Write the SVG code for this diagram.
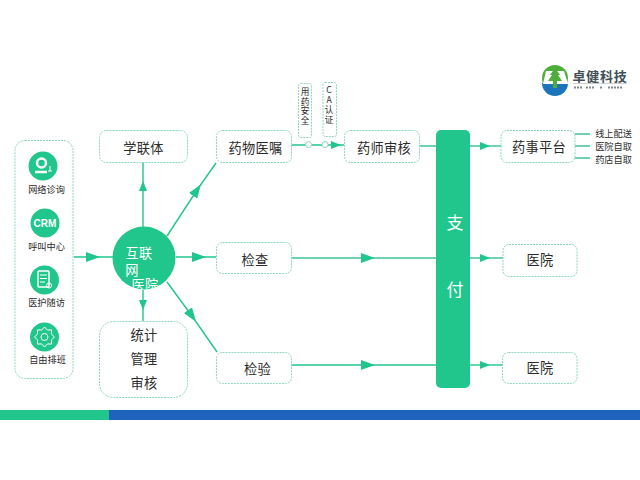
<svg xmlns="http://www.w3.org/2000/svg" width="640" height="480" viewBox="0 0 640 480">
<style>
text{font-family:"Noto Sans CJK SC","Liberation Sans",sans-serif;fill:#2b2b2b;text-anchor:middle}
.box{fill:#fff;stroke:#8fd6c0;stroke-width:1;stroke-dasharray:2 1}
.ln{fill:none;stroke:#20c68c;stroke-width:1.4}
.pale{stroke:#6fd2b0;stroke-width:2}
.t{font-size:13.2px;letter-spacing:.3px}
.s{font-size:9.2px}
.v{font-size:8.6px;writing-mode:vertical-rl;text-orientation:upright;letter-spacing:1px;text-anchor:start}
.w{fill:#fff}
.ic{fill:none;stroke:#fff}
</style>
<defs>
<marker id="a" viewBox="0 0 14 10" refX="7" refY="5" markerWidth="14" markerHeight="10" markerUnits="userSpaceOnUse" orient="auto"><path d="M0 0L14 5L0 10Z" fill="#20c68c"/></marker>
<marker id="b" viewBox="0 0 10 8" refX="5" refY="4" markerWidth="10" markerHeight="8" markerUnits="userSpaceOnUse" orient="auto"><path d="M0 0L10 4L0 8Z" fill="#20c68c"/></marker>
</defs>
<rect width="640" height="480" fill="#fff"/>
<g id="connectors">
<path class="ln" d="M74 257L93 257L113 257" marker-mid="url(#a)"/>
<path class="ln" d="M143 228L143 186L143 162" marker-mid="url(#b)"/>
<path class="ln" d="M143 290L143 305L143 321" marker-mid="url(#b)"/>
<path class="ln" d="M167 236L197 190L216 163" marker-mid="url(#a)"/>
<path class="ln" d="M176 257L199 257L216 257" marker-mid="url(#a)"/>
<path class="ln" d="M167 282L192 316L217 352" marker-mid="url(#a)"/>
<path class="ln pale" d="M291 258L368 258L436 258" marker-mid="url(#a)"/>
<path class="ln" d="M290 365L368 365L436 365" marker-mid="url(#a)"/>
<path class="ln pale" d="M470 258L485 258L503 258" marker-mid="url(#b)"/>
<path class="ln" d="M470 365L485 365L502 365" marker-mid="url(#b)"/>
<path class="ln" d="M291 145L336 145L344 145" marker-mid="url(#b)"/>
<path class="ln pale" d="M419 146L436 146"/>
<path class="ln pale" d="M470 146L485 146L501 146" marker-mid="url(#b)"/>
<path class="ln pale" d="M575 134L590 134M575 146L590 146M575 158L590 158"/>
</g>
<g id="panel">
<rect class="box" x="15" y="140.500" width="58" height="238" rx="10"/>
<g id="n-wangluo"><circle cx="43" cy="166" r="14.500" fill="#20c68c"/><circle cx="41.500" cy="163" r="4.500" class="ic" stroke-width="2.500"/><path d="M35 172H47" class="ic" stroke-width="2.500"/><path d="M48 171h4M50 166v5" class="ic"/><text class="s" x="46.500" y="192.500">网络诊询</text></g>
<g id="n-crm"><circle cx="45" cy="223" r="14.500" fill="#20c68c"/><text x="45" y="226.500" style="font:bold 10px 'Liberation Sans',sans-serif;fill:#fff">CRM</text><text class="s" x="46.500" y="249.500">呼叫中心</text></g>
<g id="n-suifang"><circle cx="44.500" cy="280" r="14.500" fill="#20c68c"/><rect x="38" y="271" width="11" height="16" rx="1" class="ic" stroke-width="1.500"/><path d="M40 275H47M40 278.500H47M40 282H45" class="ic"/><circle cx="49" cy="285.500" r="2.500" class="ic"/><text class="s" x="46.500" y="305.500">医护随访</text></g>
<g id="n-paiban"><circle cx="44.500" cy="337" r="14.500" fill="#20c68c"/><circle cx="44.500" cy="337" r="3.500" class="ic"/><path class="ic" stroke-linejoin="round" transform="translate(.5 0)" d="M54 337L50.900 339.900L51.100 344.100L46.900 343.900L44 347L41.100 343.900L36.900 344.100L37.100 339.900L34 337L37.100 334.100L36.900 329.900L41.100 330.100L44 327L46.900 330.100L51.100 329.900L50.900 334.100Z"/><text class="s" x="47.500" y="362.500">自由排班</text></g>
</g>
<g id="n-hub">
<clipPath id="c"><circle cx="144" cy="258" r="31.500"/></clipPath>
<circle cx="144" cy="258" r="31.500" fill="#20c68c"/>
<g clip-path="url(#c)">
<text class="t w"><tspan x="139" y="258">互联</tspan><tspan x="132" y="275">网</tspan><tspan x="145" y="290">医院</tspan></text>
</g>
</g>
<g id="n-xuelian"><rect class="box" x="99.500" y="130.500" width="88" height="32" rx="7"/><text class="t" x="143.500" y="152.500">学联体</text></g>
<g id="n-tongji"><rect class="box" x="99.500" y="321.500" width="88" height="76" rx="14"/><text class="t" x="144" y="340">统计</text><text class="t" x="144" y="364">管理</text><text class="t" x="144" y="388">审核</text></g>
<g id="n-yizhu"><rect class="box" x="216.500" y="130.500" width="75" height="32" rx="6"/><text class="t" x="255.500" y="152.500">药物医嘱</text></g>
<g id="n-jiancha"><rect class="box" x="216.500" y="242.500" width="75" height="31" rx="6"/><text class="t" x="255" y="264.500">检查</text></g>
<g id="n-jianyan"><rect class="box" x="216.500" y="352.500" width="75" height="31" rx="6"/><text class="t" x="257.500" y="373.500">检验</text></g>
<g id="n-anquan"><rect class="box" x="298.500" y="83.500" width="13" height="54" rx="2"/><text class="v" x="305" y="87.500">用药安全</text></g>
<g id="n-ca"><rect class="box" x="323" y="82.500" width="13.500" height="54" rx="2"/><text class="v" x="329" y="85.500" style="letter-spacing:1.500px">CA认证</text></g>
<circle cx="308.500" cy="144.500" r="3" fill="#fff" stroke="#8fd6c0"/>
<circle cx="325" cy="144.500" r="3" fill="#fff" stroke="#8fd6c0"/>
<g id="n-shenhe"><rect class="box" x="344.500" y="130.500" width="75" height="32" rx="6"/><text class="t" x="384" y="152.500">药师审核</text></g>
<g id="n-zhifu"><rect x="436" y="130" width="34" height="258" rx="5" fill="#20c68c"/><text x="455" y="229" style="font-size:17px;fill:#fff">支</text><text x="455" y="296" style="font-size:17px;fill:#fff">付</text></g>
<g id="n-pingtai"><rect class="box" x="501" y="130.500" width="74" height="32" rx="6"/><text class="t" x="539" y="152">药事平台</text></g>
<g id="n-yy1"><rect class="box" x="503" y="244.500" width="74" height="32" rx="6"/><text class="t" x="540" y="264.500">医院</text></g>
<g id="n-yy2"><rect class="box" x="502.500" y="352.500" width="74.500" height="31" rx="6"/><text class="t" x="540" y="372.500">医院</text></g>
<text class="s" x="613.500" y="136.500">线上配送</text>
<text class="s" x="613.500" y="150">医院自取</text>
<text class="s" x="613.500" y="162.500">药店自取</text>
<g id="logo">
<circle cx="555" cy="78" r="13" fill="#4fae3a"/>
<path d="M542 83A13 13 0 0 0 568 83Q555 78 542 83Z" fill="#1c75bc"/>
<path d="M546 71H564L568 84H543Z" fill="#fff"/>
<path d="M555 68L560 75H558L562 81H557V88H553V81H548L552 75H550Z" fill="#4fae3a"/>
<text x="600" y="81" style="font-size:13px;font-weight:700;fill:#3f4f55;letter-spacing:.7px">卓健科技</text>
<path d="M573 83.500H627" stroke="#b5bdbd" stroke-width=".7"/>
<path d="M574 87.500h8M586 87.500h8M600 87.500h2M608 87.500h14" stroke="#7d8a8a" stroke-width="2" stroke-dasharray="2 1"/>
</g>
<rect x="0" y="410" width="109" height="10" fill="#20c68c"/>
<rect x="109" y="410" width="531" height="10" fill="#1f63bd"/>
</svg>
